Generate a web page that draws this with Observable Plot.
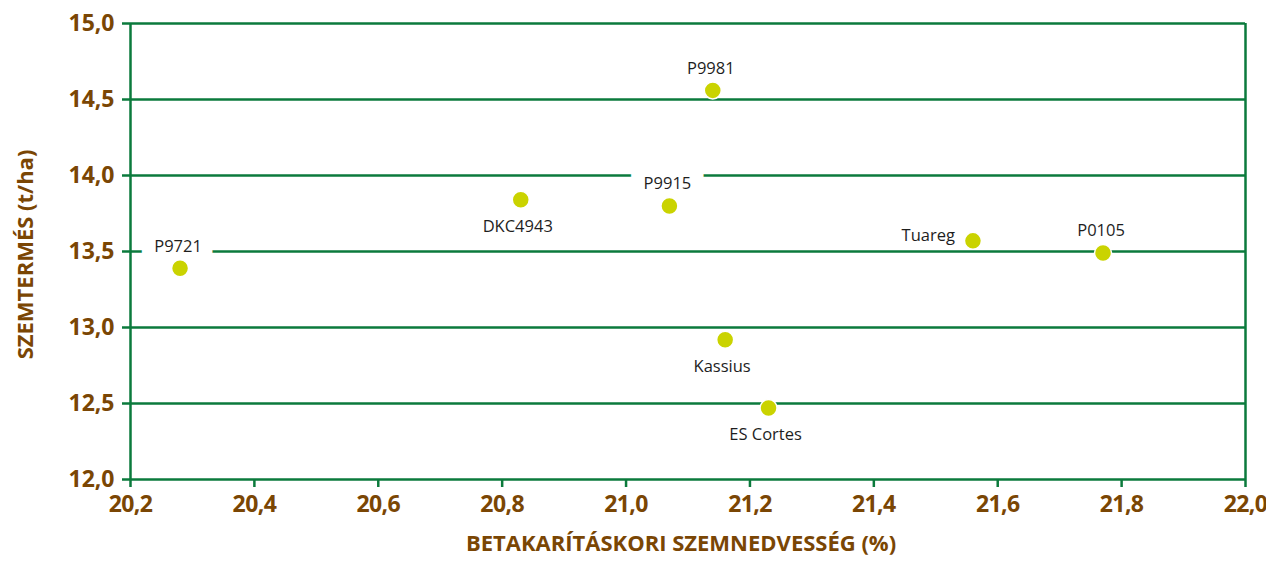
<!DOCTYPE html>
<html>
<head>
<meta charset="utf-8">
<script src="https://cdn.jsdelivr.net/npm/d3@7"></script>
<script src="https://cdn.jsdelivr.net/npm/@observablehq/plot@0.6"></script>
<style>
  html, body { margin: 0; padding: 0; background: #fff; }
  #chart svg { display: block; overflow: visible; }
  #chart g[aria-label="x-axis tick label"] text { letter-spacing: -0.6px; }
</style>
</head>
<body>
<div id="chart"></div>
<script>
// ---- data ----
const hybrids = ["P9721", "DKC4943", "P9915", "P9981", "Tuareg", "P0105", "Kassius", "ES Cortes"];
const moisture = [20.28, 20.83, 21.07, 21.14, 21.56, 21.77, 21.16, 21.23];
const yieldTha = [13.39, 13.84, 13.80, 14.56, 13.57, 13.49, 12.92, 12.47];
const xTicks = [20.2, 20.4, 20.6, 20.8, 21.0, 21.2, 21.4, 21.6, 21.8, 22.0];
const yTicks = [12.0, 12.5, 13.0, 13.5, 14.0, 14.5, 15.0];
const xTitle = "BETAKARÍTÁSKORI SZEMNEDVESSÉG (%)";
const yTitle = "SZEMTERMÉS (t/ha)";

// ---- presentation ----
const labelSide = {P9721: "top", DKC4943: "bottom", P9915: "top", P9981: "top",
                   Tuareg: "left", P0105: "top", Kassius: "bottom", "ES Cortes": "bottom"};
const boxed = new Set(["P9721", "P9915"]);

const GREEN = "#0b7a3c";
const BROWN = "#7a4604";
const DOT = "#cad300";
const FONT = "'Open Sans', 'Noto Sans', sans-serif";
const fmt = v => d3.format(".1f")(v).replace(".", ",");

const rows = hybrids.map((name, i) => ({name, x: moisture[i], y: yieldTha[i], side: labelSide[name]}));
const sideOpts = {
  top:    {dy: -22, dx: -2, textAnchor: "middle"},
  bottom: {dy: 27, dx: -3, textAnchor: "middle"},
  left:   {dy: -5, dx: -18, textAnchor: "end"}
};

function labelMarks(filterFn, halo) {
  return Object.entries(sideOpts).map(([side, o]) =>
    Plot.text(rows.filter(r => r.side === side && filterFn(r)), {
      x: "x", y: "y", text: "name",
      dx: o.dx, dy: o.dy, textAnchor: o.textAnchor,
      fontSize: 16.5, fill: "#1e1e1e", fontFamily: FONT,
      ...(halo ? {stroke: "white", strokeWidth: 28, strokeLinejoin: "miter"} : {})
    })
  );
}

const chart = Plot.plot({
  width: 1266,
  height: 561,
  marginLeft: 130,
  marginRight: 21,
  marginTop: 23,
  marginBottom: 82,
  style: {fontFamily: FONT, background: "white", overflow: "visible"},
  x: {domain: [20.2, 22.0], ticks: xTicks, tickFormat: fmt},
  y: {domain: [12, 15], ticks: yTicks, tickFormat: fmt},
  marks: [
    Plot.ruleY(yTicks, {stroke: GREEN, strokeWidth: 2.5}),
    Plot.ruleX([20.2, 22.0], {stroke: GREEN, strokeWidth: 2.5}),
    Plot.axisY({ticks: yTicks, tickFormat: fmt, tickSize: 8, tickPadding: 8, stroke: GREEN, strokeWidth: 2.5,
                fill: BROWN, fontSize: 23, fontWeight: "bold", fontFamily: FONT, label: null}),
    Plot.axisX({ticks: xTicks, tickFormat: fmt, tickSize: 8, tickPadding: 8, stroke: GREEN, strokeWidth: 2.5,
                fill: BROWN, fontSize: 23, fontWeight: "bold", fontFamily: FONT, label: null}),
    ...labelMarks(r => boxed.has(r.name), true),
    ...labelMarks(r => !boxed.has(r.name), false),
    Plot.dot(rows, {x: "x", y: "y", r: 8.5, fill: DOT, stroke: "white", strokeWidth: 1.5}),
    Plot.text([yTitle], {frameAnchor: "left", textAnchor: "middle", text: d => d, rotate: -90, dx: -105, dy: 3,
                         fill: BROWN, fontSize: 22, fontWeight: "bold", fontFamily: FONT}),
    Plot.text([xTitle], {frameAnchor: "bottom", text: d => d, dy: 71, dx: -7,
                         fill: BROWN, fontSize: 22, fontWeight: "bold", fontFamily: FONT})
  ]
});
document.getElementById("chart").appendChild(chart);
</script>
</body>
</html>
